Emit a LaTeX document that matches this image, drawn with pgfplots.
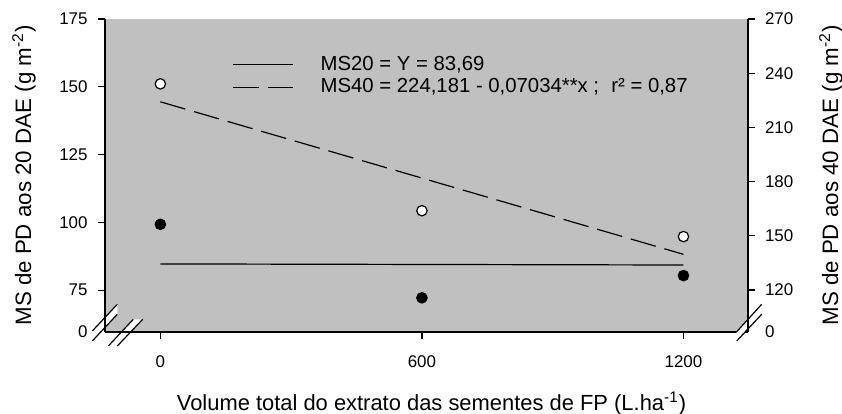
\documentclass[border=0pt]{standalone}
\usepackage{pgfplots}
\pgfplotsset{compat=1.18}
\usepackage{fontspec}
\setmainfont{Liberation Sans}
\definecolor{bggray}{RGB}{192,192,192}

\begin{document}
\begin{tikzpicture}
\path[use as bounding box] (0,0) rectangle (421bp,207bp);
\pgfplotsset{
  common/.style={
    at={(52.5bp,41bp)}, anchor=south west,
    scale only axis, width=321.5bp, height=156.5bp,
    xmin=-127, xmax=1348,
    tick align=outside,
    major tick length=3.5bp,
    tick style={line width=0.6bp, black},
    axis line style={line width=0.75bp, black, -},
    /pgf/number format/assume math mode=true,
    /pgf/number format/1000 sep={},
    tick label style={font=\fontsize{8.5}{10}\selectfont},
    clip=false,
  }
}
\begin{axis}[common,
  axis background/.style={fill=bggray},
  axis x line*=bottom, axis y line*=left,
  ymin=59.6, ymax=175,
  ytick={75,100,125,150,175},
  extra y ticks={59.6}, extra y tick labels={0},
  extra y tick style={major tick length=0pt, yticklabel style={xshift=-3.5bp}},
  xtick={0,600,1200},
  yticklabel style={xshift=-1.7bp},
  xticklabel style={yshift=-5bp},
  xlabel={Volume total do extrato das sementes de FP (L.ha\textsuperscript{-1})},
  xlabel style={at={(axis description cs:0.5,0)}, anchor=base, yshift=-39bp, xshift=2.5bp, font=\fontsize{11}{13}\selectfont},
  ylabel={MS de PD aos 20 DAE (g m\textsuperscript{-2})},
  ylabel style={at={(axis description cs:-0.126,0.5)}, anchor=center, font=\fontsize{11.2}{13}\selectfont},
  legend style={draw=none, fill=none, at={(axis cs:164.5,161.5)}, anchor=north west,
    font=\fontsize{10.2}{12}\selectfont, row sep=2.8bp, inner sep=0pt, nodes={inner sep=0pt},
    /tikz/every odd column/.append style={column sep=13.5bp}},
  legend cell align=left,
  legend image code/.code={\draw[#1] (0bp,0bp) -- (30bp,0bp);},
]
\addplot[only marks, mark=*, mark size=2.7bp, black, forget plot] coordinates {(0,99.3)(600,72.2)(1200,80.4)};
\addplot[black, line width=0.6bp] coordinates {(0,84.7)(1200,84.3)};
\addlegendentry{MS20 = Y = 83,69}
\addlegendimage{black, line width=0.6bp, dash pattern=on 13bp off 4.5bp}
\addlegendentry{MS40 = 224,181 - 0,07034**x ;\hspace{0.6em}r² = 0,87}
\end{axis}
\begin{axis}[common,
  hide x axis,
  axis y line*=right,
  ymin=96.8, ymax=270,
  ytick={120,150,180,210,240,270},
  extra y ticks={96.8}, extra y tick labels={0},
  extra y tick style={major tick length=0pt, yticklabel style={xshift=3.5bp}},
  yticklabel style={xshift=1.5bp},
  ylabel={MS de PD aos 40 DAE (g m\textsuperscript{-2})},
  ylabel style={at={(axis description cs:1.129,0.5)}, anchor=center, font=\fontsize{11.2}{13}\selectfont},
]
\addplot[only marks, mark=*, mark size=2.6bp, draw=black, fill=white, line width=0.6bp] coordinates {(0,234.1)(600,163.9)(1200,149.6)};
\addplot[black, line width=0.6bp, dash pattern=on 13bp off 4.5bp] coordinates {(0,224.18)(1200,139.77)};
\end{axis}
% axis break marks
\fill[white] (46.15bp,41.5bp) -- (58.65bp,54.85bp) -- (58.65bp,49.85bp) -- (46.15bp,36.5bp) -- cycle;
\fill[white] (54.15bp,34bp) -- (66.65bp,47.35bp) -- (71.35bp,47.35bp) -- (58.65bp,34bp) -- cycle;
\fill[white] (368.35bp,41.15bp) -- (380.85bp,54.85bp) -- (380.85bp,49.85bp) -- (368.35bp,36.5bp) -- cycle;
\draw[line width=0.75bp] (52.5bp,41bp) -- (52.5bp,56bp);
\draw[line width=0.75bp] (52.5bp,41bp) -- (72bp,41bp);
\draw[line width=0.75bp] (374bp,41bp) -- (374bp,56bp);
\draw[line width=0.6bp] (46.15bp,41.5bp) -- (58.65bp,54.85bp);
\draw[line width=0.6bp] (46.15bp,36.5bp) -- (58.65bp,49.85bp);
\draw[line width=0.6bp] (54.15bp,34bp) -- (66.65bp,47.35bp);
\draw[line width=0.6bp] (58.65bp,34bp) -- (71.35bp,47.35bp);
\draw[line width=0.6bp] (368.35bp,41.15bp) -- (380.85bp,54.85bp);
\draw[line width=0.6bp] (368.35bp,36.5bp) -- (380.85bp,49.85bp);
\end{tikzpicture}
\end{document}
